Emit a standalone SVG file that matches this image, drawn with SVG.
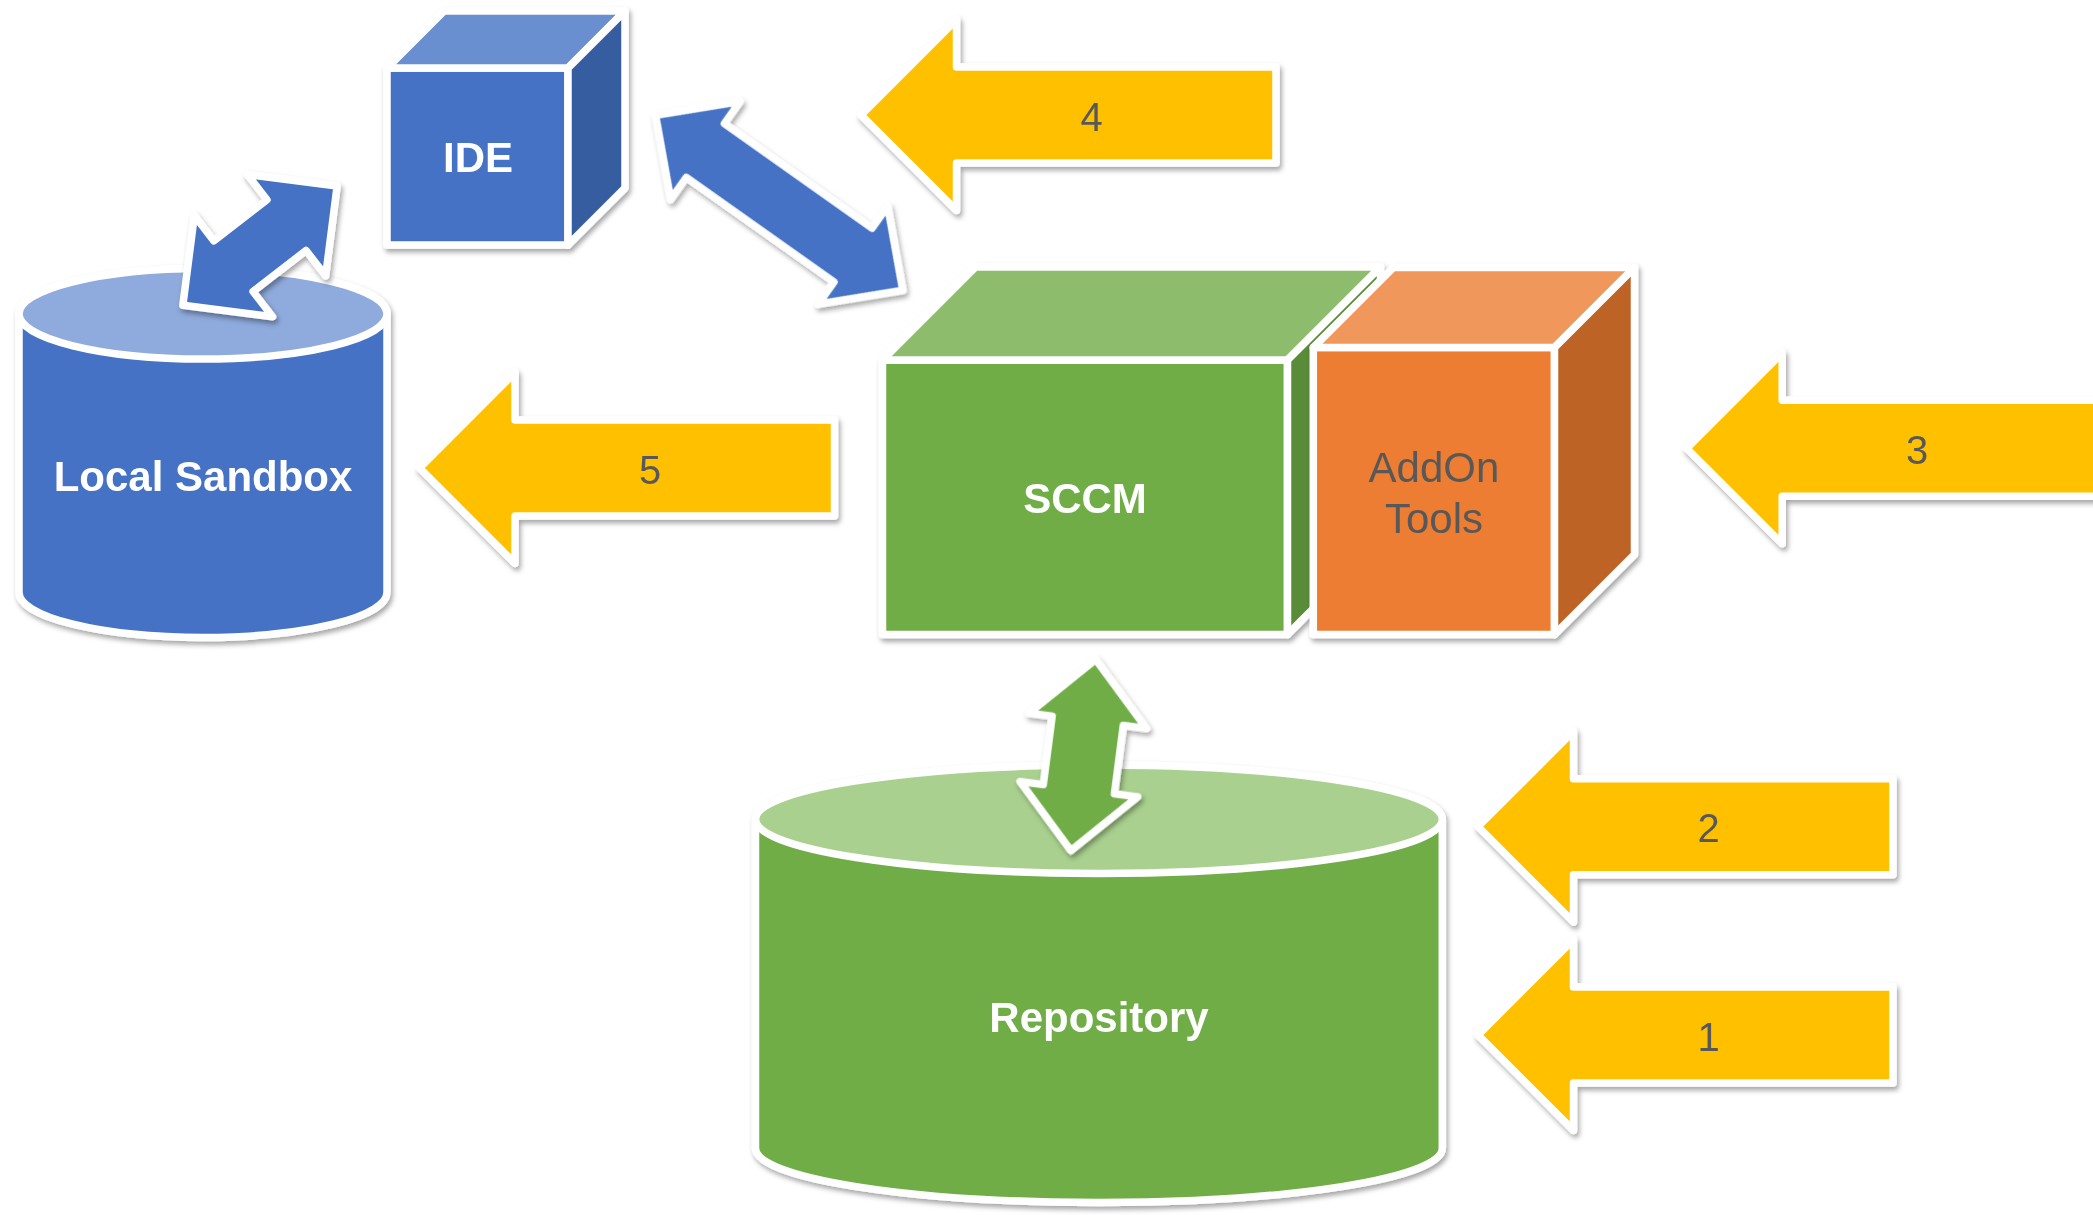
<svg xmlns="http://www.w3.org/2000/svg" width="2093" height="1215" viewBox="0 0 2093 1215">
  <defs>
    <filter id="shadow" x="-10%" y="-10%" width="125%" height="125%">
      <feDropShadow dx="2" dy="3.5" stdDeviation="2.5" flood-color="#000" flood-opacity="0.35"/>
    </filter>
    <!-- step arrow: tip at origin, pointing left -->
    <path id="stepArrow" d="M0,0 L95.5,-95.5 L95.5,-48 L415,-48 L415,48 L95.5,48 L95.5,95.5 Z"/>
  </defs>
  <style>
    .ol { stroke: #ffffff; stroke-width: 7.5; stroke-linejoin: round; }
    .sh { filter: url(#shadow); }
    .step { fill: #FFC000; }
    .num { font-family: "Liberation Sans", Arial, sans-serif; font-size: 40px; fill: #595959; text-anchor: middle; }
    .lbl { font-family: "Liberation Sans", Arial, sans-serif; font-weight: bold; font-size: 42px; fill: #ffffff; text-anchor: middle; }
    .lbl-dark { font-family: "Liberation Sans", Arial, sans-serif; font-size: 42px; fill: #595959; text-anchor: middle; }
    .blue { fill: #4472C4; }
    .blue-top { fill: #6A8FD0; }
    .blue-side { fill: #355D9F; }
    .blue-cap { fill: #8FAADC; }
    .green { fill: #70AD47; }
    .green-top { fill: #8DBD6C; }
    .green-side { fill: #5A8B39; }
    .green-cap { fill: #A9D08E; }
    .orange { fill: #ED7D31; }
    .orange-top { fill: #F0975B; }
    .orange-side { fill: #BE6427; }
  </style>

  <!-- Local Sandbox (cylinder) -->
  <g id="local-sandbox" class="sh">
    <path class="blue ol" d="M19,313.8 A184,45.3 0 0 1 387,313.8 L387,592.2 A184,45.3 0 0 1 19,592.2 Z"/>
    <ellipse class="blue-cap ol" cx="203" cy="313.8" rx="184" ry="45.3"/>
    <text class="lbl" x="203" y="491">Local Sandbox</text>
  </g>

  <!-- IDE (cube) -->
  <g id="ide" class="sh">
    <rect class="blue ol" x="387" y="68" width="181" height="177"/>
    <path class="blue-top ol" d="M387,68 L444,11 L625,11 L568,68 Z"/>
    <path class="blue-side ol" d="M568,68 L625,11 L625,188 L568,245 Z"/>
    <text class="lbl" x="478" y="172">IDE</text>
  </g>

  <!-- SCCM (cube) -->
  <g id="sccm" class="sh">
    <rect class="green ol" x="882.5" y="360" width="405" height="274.5"/>
    <path class="green-top ol" d="M882.5,360 L975.5,267 L1380.5,267 L1287.5,360 Z"/>
    <path class="green-side ol" d="M1287.5,360 L1380.5,267 L1380.5,541.5 L1287.5,634.5 Z"/>
    <text class="lbl" x="1085" y="513">SCCM</text>
  </g>

  <!-- AddOn Tools (cube) -->
  <g id="addon-tools" class="sh">
    <rect class="orange ol" x="1313.3" y="347.5" width="241.2" height="287"/>
    <path class="orange-top ol" d="M1313.3,347.5 L1393.3,267.5 L1634.5,267.5 L1554.5,347.5 Z"/>
    <path class="orange-side ol" d="M1554.5,347.5 L1634.5,267.5 L1634.5,554.5 L1554.5,634.5 Z"/>
    <text class="lbl-dark" x="1434" y="481.7">AddOn</text>
    <text class="lbl-dark" x="1434" y="532.7">Tools</text>
  </g>

  <!-- Repository (cylinder) -->
  <g id="repository" class="sh">
    <path class="green ol" d="M755.5,819.2 A343.4,54.2 0 0 1 1442.3,819.2 L1442.3,1148.3 A343.4,54.2 0 0 1 755.5,1148.3 Z"/>
    <ellipse class="green-cap ol" cx="1098.9" cy="819.2" rx="343.4" ry="54.2"/>
    <text class="lbl" x="1099" y="1031.7">Repository</text>
  </g>

  <!-- numbered step arrows -->
  <g id="step-4" class="sh">
    <use href="#stepArrow" class="step ol" transform="translate(861,115)"/>
    <text class="num" x="1091.5" y="130.5">4</text>
  </g>
  <g id="step-5" class="sh">
    <use href="#stepArrow" class="step ol" transform="translate(419.5,468)"/>
    <text class="num" x="650" y="483.5">5</text>
  </g>
  <g id="step-3" class="sh">
    <use href="#stepArrow" class="step ol" transform="translate(1686.7,448.3)"/>
    <text class="num" x="1917.2" y="463.8">3</text>
  </g>
  <g id="step-2" class="sh">
    <use href="#stepArrow" class="step ol" transform="translate(1478,826.7)"/>
    <text class="num" x="1708.5" y="842.2">2</text>
  </g>
  <g id="step-1" class="sh">
    <use href="#stepArrow" class="step ol" transform="translate(1478,1035)"/>
    <text class="num" x="1708.5" y="1050.5">1</text>
  </g>

  <!-- two-way connectors -->
  <g id="connectors" class="sh">
    <!-- Local Sandbox <-> IDE -->
    <path class="blue ol" transform="translate(260,245.7) rotate(-37.7)"
          d="M-97.5,0 L-33.5,-64 L-33.5,-32 L33.5,-32 L33.5,-64 L97.5,0 L33.5,64 L33.5,32 L-33.5,32 L-33.5,64 Z"/>
    <!-- IDE <-> SCCM -->
    <path class="blue ol" transform="translate(779.2,202.8) rotate(35.3)"
          d="M-151.5,0 L-90.5,-60 L-90.5,-33 L90.5,-33 L90.5,-60 L151.5,0 L90.5,60 L90.5,33 L-90.5,33 L-90.5,60 Z"/>
    <!-- SCCM <-> Repository -->
    <path class="green ol" transform="translate(1083.3,755) rotate(7.4)"
          d="M0,-96.4 L59.3,-34.4 L35.9,-34.4 L35.9,34.4 L59.3,34.4 L0,96.4 L-59.3,34.4 L-35.9,34.4 L-35.9,-34.4 L-59.3,-34.4 Z"/>
  </g>
</svg>
